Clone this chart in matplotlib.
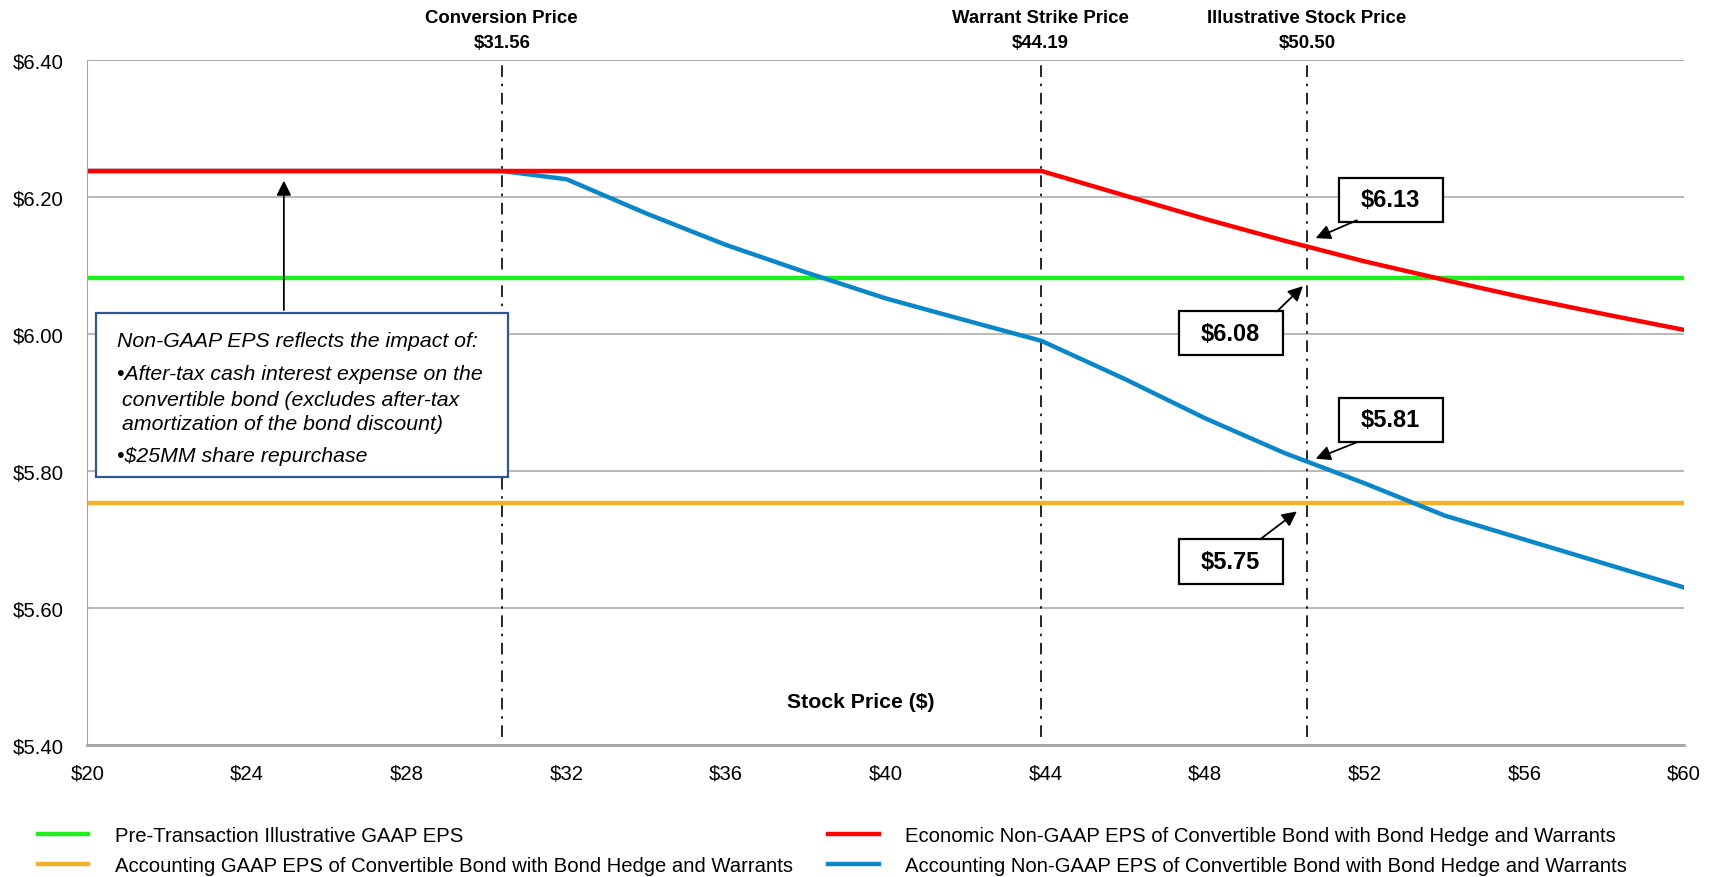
import matplotlib
matplotlib.use("Agg")
import matplotlib.pyplot as plt
from matplotlib.patches import Rectangle
from matplotlib.ticker import FuncFormatter, MultipleLocator

plt.rcParams['font.family'] = ['Liberation Sans', 'DejaVu Sans']

# series
pre_gaap_eps = 6.082
acct_gaap_eps = 5.753

econ_x = [20, 43.9, 46, 48, 50, 52, 54, 56, 58, 60]
econ_eps = [6.238, 6.238, 6.202, 6.168, 6.136, 6.106, 6.079, 6.053, 6.029, 6.006]

acct_x = [20, 30.38, 32, 34, 36, 38, 40, 42, 43.9, 46, 48, 50, 52, 54, 56, 58, 60]
acct_eps = [6.238, 6.238, 6.226, 6.176, 6.13, 6.09, 6.052, 6.02, 5.99, 5.934,
            5.877, 5.826, 5.782, 5.735, 5.70, 5.665, 5.63]

marker_x = [30.38, 43.88, 50.55]
marker_titles = ["Conversion Price", "Warrant Strike Price", "Illustrative Stock Price"]
marker_values = ["$31.56", "$44.19", "$50.50"]

callout_labels = ["$6.13", "$6.08", "$5.81", "$5.75"]

legend_labels = [
    "Pre-Transaction Illustrative GAAP EPS",
    "Accounting GAAP EPS of Convertible Bond with Bond Hedge and Warrants",
    "Economic Non-GAAP EPS of Convertible Bond with Bond Hedge and Warrants",
    "Accounting Non-GAAP EPS of Convertible Bond with Bond Hedge and Warrants",
]

GREEN, ORANGE, RED, BLUE = "#1EF01E", "#F2B126", "#FF0000", "#0B87C9"

fig = plt.figure(figsize=(17.15, 8.78), dpi=100)
ax = fig.add_axes([0.051, 0.1503, 0.931, 0.7802])

lg, = ax.plot([20, 60], [pre_gaap_eps] * 2, color=GREEN, lw=3.2)
lo, = ax.plot([20, 60], [acct_gaap_eps] * 2, color=ORANGE, lw=3.2)
lb, = ax.plot(acct_x, acct_eps, color=BLUE, lw=3.2)
lr, = ax.plot(econ_x, econ_eps, color=RED, lw=3.2)

ax.set_xlim(20, 60)
ax.set_ylim(5.4, 6.4)
ax.xaxis.set_major_locator(MultipleLocator(4))
ax.yaxis.set_major_locator(MultipleLocator(0.2))
ax.xaxis.set_major_formatter(FuncFormatter(lambda v, p: f"${v:.0f}"))
ax.yaxis.set_major_formatter(FuncFormatter(lambda v, p: f"${v:.2f}"))
ax.tick_params(length=0, labelsize=14.7, colors="black")
ax.tick_params(axis="x", pad=13.5)
ax.tick_params(axis="y", pad=17)
ax.grid(axis="y", color="#A6A6A6", lw=1.1, zorder=0)
ax.set_axisbelow(True)
for s in ["top", "right"]:
    ax.spines[s].set_visible(False)
ax.spines["left"].set_color("#A6A6A6")
ax.spines["bottom"].set_color("#A6A6A6")
ax.spines["bottom"].set_linewidth(2)
ax.axhline(6.4, color="#A6A6A6", lw=1.1, zorder=0)

# vertical reference lines with titles above the plot
xt = ax.get_xaxis_transform()
for x, title, val in zip(marker_x, marker_titles, marker_values):
    ax.axvline(x, ymin=0.012, ymax=1, color="black", lw=1.2, ls=(0, (7, 4, 1.5, 4)), zorder=1)
    ax.text(x, 1.062, title, transform=xt, ha="center", va="center", fontsize=13.4, fontweight="bold")
    ax.text(x, 1.026, val, transform=xt, ha="center", va="center", fontsize=13.4, fontweight="bold")

ax.text(39.36, 0.064, "Stock Price ($)", transform=xt, ha="center", va="center",
        fontsize=15.3, fontweight="bold")

# text box on the left
ax.add_patch(Rectangle((20.21, 5.792), 10.32, 0.2386, facecolor="white",
                       edgecolor="#2F5597", lw=1.6, zorder=5))
note_kw = dict(fontsize=15.3, style="italic", va="center", ha="left", zorder=6)
ax.text(20.74, 5.990, "Non-GAAP EPS reflects the impact of:", **note_kw)
ax.text(20.74, 5.942, "•After-tax cash interest expense on the", **note_kw)
ax.text(20.87, 5.905, "convertible bond (excludes after-tax", **note_kw)
ax.text(20.87, 5.869, "amortization of the bond discount)", **note_kw)
ax.text(20.74, 5.823, "•$25MM share repurchase", **note_kw)
ax.annotate("", xy=(24.92, 6.228), xytext=(24.92, 6.031),
            arrowprops=dict(arrowstyle="-|>", color="black", lw=1.3, mutation_scale=22), zorder=6)

# value callouts
callout_centers = [(52.65, 6.196), (48.64, 6.001), (52.65, 5.875), (48.64, 5.668)]
callout_tails = [(51.8, 6.166), (49.8, 6.033), (51.8, 5.842), (49.37, 5.700)]
callout_tips = [(50.77, 6.140), (50.45, 6.070), (50.77, 5.818), (50.30, 5.741)]
for lab, (cx, cy), tail, tip in zip(callout_labels, callout_centers, callout_tails, callout_tips):
    ax.add_patch(Rectangle((cx - 1.3, cy - 0.0322), 2.6, 0.0644, facecolor="white",
                           edgecolor="black", lw=1.6, zorder=5))
    ax.text(cx, cy, lab, ha="center", va="center", fontsize=17, fontweight="bold", zorder=6)
    ax.annotate("", xy=tip, xytext=tail,
                arrowprops=dict(arrowstyle="-|>", color="black", lw=1.3, mutation_scale=22,
                                shrinkA=0, shrinkB=0), zorder=6)

fig.legend([lg, lo, lr, lb], legend_labels, ncol=2, loc="upper left",
           bbox_to_anchor=(0.022, 0.058), frameon=False, fontsize=14.6,
           handlelength=2.5, handletextpad=1.3, columnspacing=1.75,
           labelspacing=0.56, borderpad=0, borderaxespad=0)

fig.savefig("out.png", dpi=100)
plt.close(fig)
